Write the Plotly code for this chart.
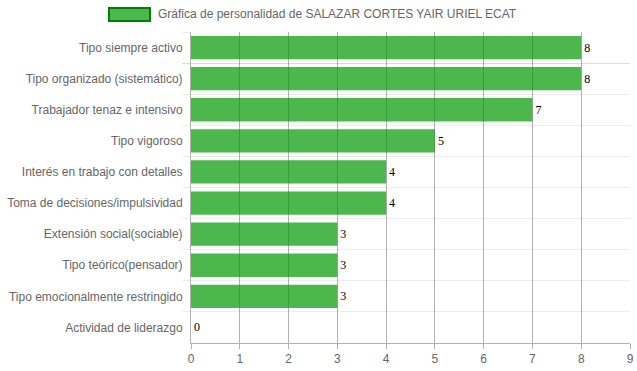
import plotly.graph_objects as go

categories = [
    "Tipo siempre activo",
    "Tipo organizado (sistemático)",
    "Trabajador tenaz e intensivo",
    "Tipo vigoroso",
    "Interés en trabajo con detalles",
    "Toma de decisiones/impulsividad",
    "Extensión social(sociable)",
    "Tipo teórico(pensador)",
    "Tipo emocionalmente restringido",
    "Actividad de liderazgo",
]
values = [8, 8, 7, 5, 4, 4, 3, 3, 3, 0]
series_name = "Gráfica de personalidad de SALAZAR CORTES YAIR URIEL ECAT"
x_ticks = list(range(0, 10))

bar_fill = "rgba(0,153,0,0.7)"
bar_border = "rgba(0,128,0,1)"

fig = go.Figure()
fig.add_trace(go.Bar(
    y=categories,
    x=values,
    orientation="h",
    name=series_name,
    marker=dict(color=bar_fill, line=dict(width=0)),
    text=[str(v) for v in values],
    textposition="outside",
    textfont=dict(family="Liberation Serif, Times New Roman, serif", size=12, color="#000"),
    cliponaxis=False,
    showlegend=False,
))

W, H = 637, 371
L, R, T, B = 191, 7, 32, 28
pw, ph = W - L - R, H - T - B

def px_x(x):
    return (x - L) / pw

def px_y(y):
    return 1 + (T - y) / ph

fig.add_shape(type="rect", xref="paper", yref="paper",
              x0=px_x(109), x1=px_x(150), y0=px_y(21), y1=px_y(8),
              fillcolor=bar_fill, line=dict(color=bar_border, width=2))
fig.add_annotation(xref="paper", yref="paper", x=px_x(156), y=px_y(14),
                   xanchor="left", yanchor="middle", showarrow=False,
                   text=series_name,
                   font=dict(family="Liberation Sans, Arial", size=12, color="#666"))

fig.update_layout(
    width=W, height=H,
    margin=dict(l=L, r=R, t=T, b=B),
    paper_bgcolor="white", plot_bgcolor="white",
    bargap=0.25,
    font=dict(family="Liberation Sans, Arial", size=12, color="#666"),
    xaxis=dict(
        range=[0, 9], tickvals=x_ticks, showgrid=True, automargin=False,
        gridcolor="rgba(0,0,0,0.3)", gridwidth=1,
        ticks="outside", ticklen=5, tickcolor="rgba(0,0,0,0.3)",
        showline=True, linecolor="rgba(0,0,0,0.3)", zeroline=False,
        tickfont=dict(size=12, color="#666"),
    ),
    yaxis=dict(
        autorange="reversed", tickson="boundaries", showgrid=True, automargin=False,
        gridcolor="rgba(0,0,0,0.07)", ticks="outside", ticklen=8,
        tickcolor="rgba(0,0,0,0.07)", showline=True,
        linecolor="rgba(0,0,0,0.3)", ticklabelstandoff=5,
        tickfont=dict(size=12, color="#666"),
    ),
)

fig.write_html("out.html", config={"displayModeBar": False},
               post_script="document.body.style.margin='0';document.body.style.overflow='hidden';")
